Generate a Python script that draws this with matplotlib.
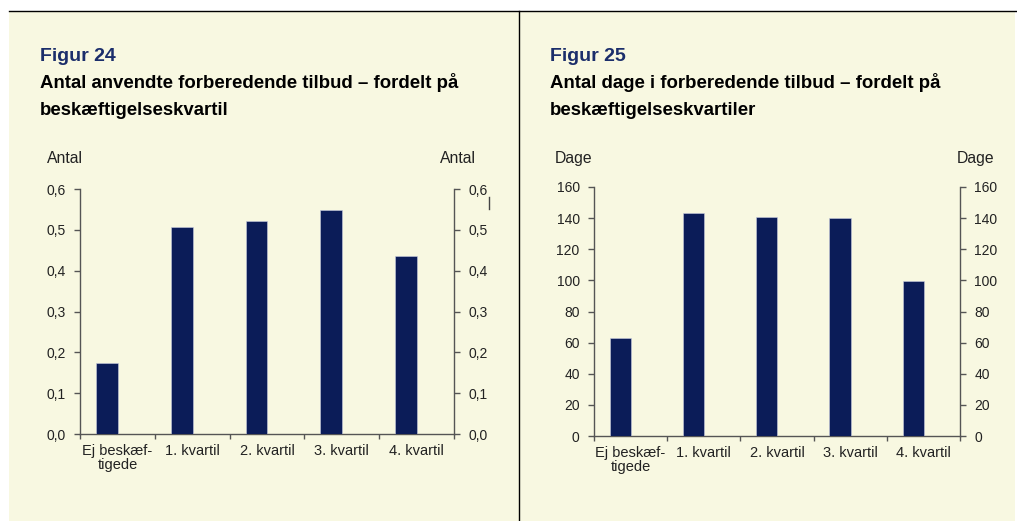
import matplotlib
matplotlib.use("Agg")
import matplotlib.pyplot as plt
from matplotlib.patches import Rectangle
from matplotlib.lines import Line2D

plt.rcParams['font.family'] = ['Liberation Sans', 'DejaVu Sans']

categories = ["Ej beskæf-\ntigede", "1. kvartil", "2. kvartil", "3. kvartil", "4. kvartil"]
antal_values = [0.175, 0.507, 0.522, 0.548, 0.436]
dage_values = [63, 143, 140.5, 140, 99.5]
antal_ticks = [0.0, 0.1, 0.2, 0.3, 0.4, 0.5, 0.6]
antal_ticklabels = ["0,0", "0,1", "0,2", "0,3", "0,4", "0,5", "0,6"]
dage_ticks = [0, 20, 40, 60, 80, 100, 120, 140, 160]

W, H = 1017, 521
fig = plt.figure(figsize=(W / 100, H / 100), dpi=100)
fig.patch.set_facecolor("white")

BEIGE = "#F8F8E1"
NAVY_BAR = "#0B1C58"
TITLE_COL = "#1B2E6B"
SPINE = "#555555"
TXT = "#222222"
YTICKFS = 10
XTICKFS = 10.5
UNITFS = 11.3
BAR_SHIFT = -0.14


def fx(px):
    return px / W


def fy(py):
    return 1 - py / H


# background panels
fig.patches.append(Rectangle((fx(9), 0), fx(1015) - fx(9), fy(11), transform=fig.transFigure,
                             facecolor=BEIGE, edgecolor="none", zorder=-10))
fig.lines.append(Line2D([fx(9), fx(1017)], [fy(11), fy(11)], transform=fig.transFigure,
                        color="black", lw=1.0, zorder=-5))
fig.lines.append(Line2D([fx(519), fx(519)], [fy(11), 0], transform=fig.transFigure,
                        color="black", lw=1.0, zorder=-5))


def panel(ax_box, values, ticks, ticklabels, ymax, unit, fig_no, sub1, sub2,
          title_x, unit_left_x, unit_right_x):
    l, t, r, b = ax_box
    ax = fig.add_axes([fx(l), fy(b), fx(r) - fx(l), (b - t) / H])
    ax.set_facecolor("none")
    x = list(range(len(values)))
    ax.bar([i + BAR_SHIFT for i in x], values, width=0.29, color=NAVY_BAR,
           edgecolor="#C8CCE0", linewidth=0.4, zorder=3)
    ax.set_xlim(-0.5, len(values) - 0.5)
    ax.set_ylim(0, ymax)
    ax.set_yticks(ticks)
    ax.set_yticklabels(ticklabels)
    ax.set_xticks([i - 0.5 for i in range(len(values) + 1)])
    ax.set_xticklabels([])
    ax.set_xticks(x, minor=True)
    ax.set_xticklabels(categories, minor=True, fontsize=XTICKFS, color=TXT, linespacing=1.0)
    ax.tick_params(axis="x", which="minor", length=0, pad=7)
    ax.tick_params(axis="x", which="major", length=3.5, width=1, color=SPINE, direction="out")
    ax.tick_params(axis="y", which="major", length=4, width=1, color=SPINE, direction="out",
                   labelsize=YTICKFS, labelcolor=TXT, left=True, right=True,
                   labelleft=True, labelright=True, pad=6.3)
    ax.spines["top"].set_visible(False)
    for s in ["left", "right", "bottom"]:
        ax.spines[s].set_color(SPINE)
        ax.spines[s].set_linewidth(1.0)

    fig.text(fx(title_x), fy(61), fig_no, fontsize=14, fontweight="bold", color=TITLE_COL,
             va="baseline", ha="left")
    fig.text(fx(title_x), fy(88), sub1, fontsize=13.4, fontweight="bold", color="black",
             va="baseline", ha="left")
    fig.text(fx(title_x), fy(115), sub2, fontsize=13.4, fontweight="bold", color="black",
             va="baseline", ha="left")
    fig.text(fx(unit_left_x), fy(163), unit, fontsize=UNITFS, color=TXT, va="baseline", ha="left")
    fig.text(fx(unit_right_x), fy(163), unit, fontsize=UNITFS, color=TXT, va="baseline", ha="right")
    return ax


ax1 = panel((80, 189, 454, 434), antal_values, antal_ticks, antal_ticklabels, 0.6, "Antal",
            "Figur 24", "Antal anvendte forberedende tilbud – fordelt på", "beskæftigelseskvartil",
            40, 47, 476)
ax2 = panel((594, 187, 960, 436), dage_values, dage_ticks, [str(v) for v in dage_ticks], 160, "Dage",
            "Figur 25", "Antal dage i forberedende tilbud – fordelt på", "beskæftigelseskvartiler",
            550, 555, 994)

# small stray mark near the right axis of the first chart
fig.lines.append(Line2D([fx(489), fx(489)], [fy(197), fy(209)], transform=fig.transFigure,
                        color="#444444", lw=1.0))

fig.savefig("out.png", dpi=100, facecolor=fig.get_facecolor())
